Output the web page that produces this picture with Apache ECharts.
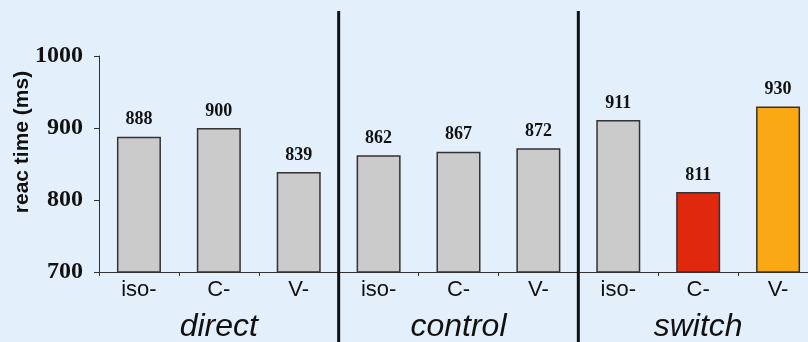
<!DOCTYPE html>
<html><head><meta charset="utf-8">
<script src="https://cdn.jsdelivr.net/npm/echarts@6/dist/echarts.min.js"></script>
<style>html,body{margin:0;padding:0;background:#e3effb}#c{width:808px;height:342px}</style>
</head><body><div id="c"></div>
<script>
const categories = ['iso-','C-','V-','iso-','C-','V-','iso-','C-','V-'];
const groups = ['direct','control','switch'];
const values = [888, 900, 839, 862, 867, 872, 911, 811, 930];
const barColors = ['#cbcbcb','#cbcbcb','#cbcbcb','#cbcbcb','#cbcbcb','#cbcbcb','#cbcbcb','#e0280f','#fba815'];
const yTicks = [700, 800, 900, 1000];

const chart = echarts.init(document.getElementById('c'), null, {renderer:'canvas'});
const option = {
  backgroundColor: '#e3effb',
  animation: false,
  grid: {left: 99, top: 56, bottom: 70, width: 719, containLabel: false, outerBoundsMode: 'none'},
  xAxis: [{
    type: 'category', data: categories, position: 'bottom',
    axisLine: {lineStyle: {color: '#333', width: 1}},
    axisTick: {show: true, length: 4, lineStyle: {color: '#333'}},
    axisLabel: {fontFamily: 'Liberation Sans', fontSize: 22, color: '#111', margin: 7}
  }, {
    type: 'category', data: groups, position: 'bottom',
    axisLine: {show: false}, axisTick: {show: false},
    axisLabel: {fontFamily: 'Liberation Sans', fontStyle: 'italic', fontSize: 32, color: '#111', margin: 39}
  }],
  yAxis: {
    type: 'value', min: yTicks[0], max: yTicks[yTicks.length-1], interval: 100,
    name: 'reac time (ms)', nameLocation: 'middle', nameGap: 66, nameMoveOverlap: false,
    nameTextStyle: {fontFamily: 'Liberation Sans', fontWeight: 'bold', fontSize: 21, color: '#111', padding: [0,0,0,44]},
    axisLine: {show: true, lineStyle: {color: '#333'}},
    axisTick: {show: true, length: 5, lineStyle: {color: '#333'}},
    splitLine: {show: false},
    axisLabel: {fontFamily: 'Liberation Serif', fontWeight: 'bold', fontSize: 24, color: '#111', margin: 16,
      formatter: v => String(v)}
  },
  series: [{
    type: 'bar', xAxisIndex: 0, barWidth: 44,
    data: values.map((v,i) => ({value: v, itemStyle: {color: barColors[i]}})),
    itemStyle: {borderColor: '#333', borderWidth: 1.5},
    label: {show: true, position: 'top', distance: 8, fontFamily: 'Liberation Serif', fontWeight: 'bold', fontSize: 18, color: '#111'}
  }]
};
chart.setOption(option);
const p0 = chart.convertToPixel({xAxisIndex: 0}, 0);
const p1 = chart.convertToPixel({xAxisIndex: 0}, 1);
const step = p1 - p0;
const seps = [3, 6].map(b => {
  const x = p0 - step/2 + b*step;
  return {type: 'line', shape: {x1: x, y1: 11, x2: x, y2: 342}, style: {stroke: '#111', lineWidth: 3}, z: 100};
});
chart.setOption({graphic: seps});
</script></body></html>
